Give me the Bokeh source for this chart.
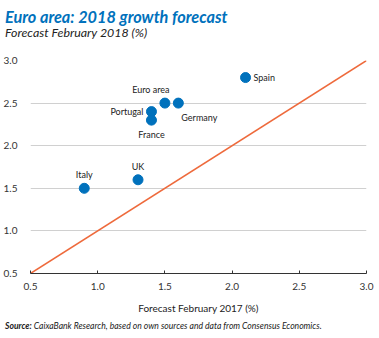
from bokeh.plotting import figure
from bokeh.models import ColumnDataSource, FixedTicker, Range1d, PrintfTickFormatter, Div
from bokeh.layouts import column
from bokeh.core.properties import value
from bokeh.embed import file_html
from bokeh.resources import INLINE

title = "Euro area: 2018 growth forecast"
subtitle = "Forecast February 2018 (%)"
x_label = "Forecast February 2017 (%)"
source_bold = "Source:"
source_text = "CaixaBank Research, based on own sources and data from Consensus Economics."

countries = ["Italy", "UK", "Portugal", "France", "Euro area", "Germany", "Spain"]
forecast_2017 = [0.9, 1.3, 1.4, 1.4, 1.5, 1.6, 2.1]
forecast_2018 = [1.5, 1.6, 2.4, 2.3, 2.5, 2.5, 2.8]
diag = [0.5, 3.0]
ticks = [0.5, 1.0, 1.5, 2.0, 2.5, 3.0]

# label placement (style)
lab_dx = [0, 0, -8, 0, -14, 3, 8]
lab_dy = [-8, -8, 0, 9, -8, 9, 0]
lab_align = ["center", "center", "right", "center", "center", "left", "left"]
lab_base = ["bottom", "bottom", "middle", "top", "bottom", "top", "middle"]

FONT = "Lato"
BLUE = "#0071BC"
TXT = "#222222"

header = Div(width=379, height=45, margin=0, text=(
    '<div style="position:relative;width:379px;height:45px;">'
    f'<div style="position:absolute;left:5px;top:8.8px;font:italic bold 16.3px {FONT};'
    f'line-height:1;color:{BLUE};white-space:nowrap;">{title}</div>'
    f'<div style="position:absolute;left:5px;top:27.3px;font:italic 12.4px {FONT};'
    f'line-height:1;color:{TXT};white-space:nowrap;">{subtitle}</div>'
    '</div>'))

footer = Div(width=379, height=18, margin=0, text=(
    '<div style="position:relative;width:379px;height:18px;">'
    f'<div style="position:absolute;left:5px;top:2.4px;font:italic 8.6px {FONT};'
    f'line-height:1;color:{TXT};white-space:nowrap;"><b>{source_bold}</b> {source_text}</div>'
    '</div>'))

p = figure(width=379, height=275, output_backend="svg", toolbar_location=None,
           x_range=Range1d(0.5, 3.0), y_range=Range1d(0.5, 3.0),
           min_border_left=30, min_border_right=13, min_border_top=15, min_border_bottom=47,
           margin=0)
p.outline_line_color = None
p.background_fill_color = "white"
p.border_fill_color = "white"

p.xgrid.grid_line_color = None
p.ygrid.grid_line_color = "#D0D0D0"
p.ygrid.grid_line_width = 1

fmt = PrintfTickFormatter(format="%.1f")
p.xaxis.ticker = FixedTicker(ticks=ticks)
p.yaxis.ticker = FixedTicker(ticks=ticks)
p.xaxis.formatter = fmt
p.yaxis.formatter = fmt
p.xaxis.minor_tick_line_color = None
p.yaxis.minor_tick_line_color = None
p.xaxis.major_tick_out = 0
p.xaxis.major_tick_in = 3
p.xaxis.major_tick_line_color = "#333333"
p.xaxis.axis_line_color = "#333333"
p.xaxis.major_label_text_font = FONT
p.xaxis.major_label_text_font_size = "10px"
p.xaxis.major_label_text_color = "#333333"
p.xaxis.major_label_standoff = 9
p.xaxis.axis_label = x_label
p.xaxis.axis_label_text_font = FONT
p.xaxis.axis_label_text_font_style = "normal"
p.xaxis.axis_label_text_font_size = "10px"
p.xaxis.axis_label_text_color = TXT
p.xaxis.axis_label_standoff = 9

p.yaxis.axis_line_color = None
p.yaxis.major_tick_line_color = None
p.yaxis.major_label_text_font = FONT
p.yaxis.major_label_text_font_size = "10px"
p.yaxis.major_label_text_color = "#333333"
p.yaxis.major_label_standoff = 7

p.line(diag, diag, line_color="#EE6A3C", line_width=1.5)

src = ColumnDataSource(dict(x=forecast_2017, y=forecast_2018, name=countries,
                            dx=lab_dx, dy=lab_dy, al=lab_align, bl=lab_base))
p.scatter("x", "y", source=src, size=10, fill_color=BLUE, line_color=BLUE)
p.text("x", "y", text="name", source=src, x_offset="dx", y_offset="dy",
       text_align="al", text_baseline="bl", text_font=value(FONT),
       text_font_size="9px", text_color=TXT)

layout = column(header, p, footer, spacing=0, margin=0)
open("out.html", "w").write(file_html(layout, INLINE))
